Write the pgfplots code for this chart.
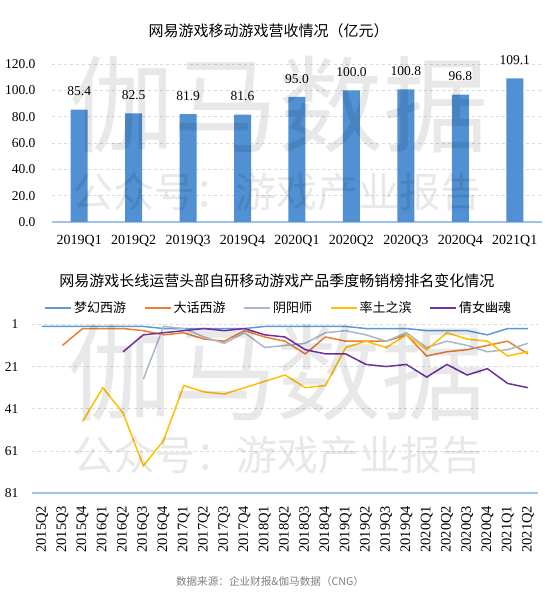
\documentclass[border=0pt]{standalone}
\usepackage{pgfplots}
\pgfplotsset{compat=1.18}
\usepackage{pgfplotstable}
\usepackage{fontspec}
\setmainfont{Liberation Serif}
\newfontfamily\cjk{Noto Sans CJK SC}
\definecolor{barblue}{HTML}{5090D3}
\definecolor{axblue}{HTML}{9DC3E6}
\definecolor{gridc}{HTML}{D9D9D9}
\definecolor{cblue}{HTML}{5B9BD5}
\definecolor{corange}{HTML}{ED7D31}
\definecolor{cgrey}{HTML}{A9B7CA}
\definecolor{cyellow}{HTML}{FFC000}
\definecolor{cpurple}{HTML}{7030A0}
\definecolor{srcgray}{HTML}{7F7F7F}

\pgfplotstableread{
q rev
0 85.4
1 82.5
2 81.9
3 81.6
4 95.0
5 100.0
6 100.8
7 96.8
8 109.1
}\revenue

\pgfplotstableread{
i mh dh yy st qn
0 2 nan nan nan nan
1 2 11 nan nan nan
2 2 3 nan 47 nan
3 2 3 nan 31 nan
4 2 3 nan 43 14
5 2 4 27 68 6
6 3 6 2 56 5
7 3 5 3 30 4
8 3 8 7 33 3
9 3 9 10 34 4
10 3 4 5 31 3
11 2 7 12 28 6
12 2 9 11 25 7
13 2 15 10 31 13
14 2 7 5 30 15
15 2 9 4 12 15
16 3 9 6 9 20
17 3 9 9 12 21
18 3 6 5 6 20
19 4 16 12 13 26
20 4 14 9 5 20
21 4 13 11 8 25
22 6 11 14 9 22
23 3 9 13 16 29
24 3 15 10 14 31
}\ranks

\begin{document}
\begin{tikzpicture}
\useasboundingbox (0pt,0pt) rectangle (547pt,595pt);

% titles
\node[font=\cjk\fontsize{15}{15}\selectfont] at (268.5pt,564pt) {网易游戏移动游戏营收情况（亿元）};
\node[font=\cjk\fontsize{15}{15}\selectfont] at (277pt,314pt) {网易游戏长线运营头部自研移动游戏产品季度畅销榜排名变化情况};
\node[font=\cjk\fontsize{10.6}{10.6}\selectfont, text=srcgray] at (270pt,13.5pt) {数据来源：企业财报\&伽马数据（CNG）};

% top bar chart
\begin{axis}[
  at={(52pt,373pt)}, anchor=south west,
  scale only axis, width=490pt, height=158pt,
  ymin=0, ymax=120, ytick={0,20,...,120},
  xmin=-0.5, xmax=8.5, xtick={0,...,8},
  xticklabels={2019Q1,2019Q2,2019Q3,2019Q4,2020Q1,2020Q2,2020Q3,2020Q4,2021Q1},
  ybar, bar width=17pt,
  ymajorgrids, grid style={gridc, dash pattern=on 3pt off 3pt, line width=0.8pt},
  separate axis lines, axis x line*=bottom, axis y line*=left,
  y axis line style={draw=none},
  x axis line style={draw=axblue, line width=1.2pt, -},
  major tick length=0pt,
  tick label style={font=\fontsize{13.5}{13.5}\selectfont},
  /pgf/number format/assume math mode=true,
  yticklabel style={xshift=-13pt, /pgf/number format/.cd, fixed, fixed zerofill, precision=1, assume math mode=true},
  xticklabel style={yshift=-10pt, font=\fontsize{14}{14}\selectfont},
  nodes near coords={\pgfmathprintnumber[fixed,fixed zerofill,precision=1,assume math mode=true]{\pgfplotspointmeta}},
  nodes near coords style={font=\fontsize{13.5}{13.5}\selectfont, yshift=10pt, text=black},
  clip=false,
]
\addplot[fill=barblue, draw=none] table[x=q, y=rev] {\revenue};
\end{axis}

% bottom line chart
\begin{axis}[
  at={(32pt,101.7pt)}, anchor=south west,
  scale only axis, width=506pt, height=169pt,
  y dir=reverse, ymin=1, ymax=81, ytick={1,21,41,61,81},
  xmin=-0.5, xmax=24.5, xtick={0,...,24},
  xticklabels={2015Q2,2015Q3,2015Q4,2016Q1,2016Q2,2016Q3,2016Q4,2017Q1,2017Q2,2017Q3,2017Q4,2018Q1,2018Q2,2018Q3,2018Q4,2019Q1,2019Q2,2019Q3,2019Q4,2020Q1,2020Q2,2020Q3,2020Q4,2021Q1,2021Q2},
  xticklabel style={yshift=-9pt, rotate=90, anchor=east, font=\fontsize{14.5}{14.5}\selectfont},
  ymajorgrids, grid style={gridc, dash pattern=on 3pt off 3pt, line width=0.8pt},
  axis line style={draw=none},
  major tick length=0pt,
  tick label style={font=\fontsize{13.5}{13.5}\selectfont},
  /pgf/number format/assume math mode=true,
  yticklabel style={xshift=-10pt},
  legend columns=5,
  legend style={draw=none, fill=none, at={(0.5,1)}, anchor=south, yshift=6pt, xshift=-6pt,
    font=\cjk\fontsize{13}{13}\selectfont,
    /tikz/every even column/.append style={column sep=16pt}},
  legend image code/.code={\draw[#1, line width=1.5pt] (0pt,0pt) -- (26pt,0pt);},
  clip=false,
]
\draw[axblue, line width=2pt] (axis cs:-0.5,81) -- (axis cs:24.5,81);
\addplot[cblue, line width=1.5pt] table[x=i, y=mh] {\ranks};
\addlegendentry{梦幻西游}
\addplot[corange, line width=1.5pt] table[x=i, y=dh] {\ranks};
\addlegendentry{大话西游}
\addplot[cgrey, line width=1.5pt] table[x=i, y=yy] {\ranks};
\addlegendentry{阴阳师}
\addplot[cyellow, line width=1.5pt] table[x=i, y=st] {\ranks};
\addlegendentry{率土之滨}
\addplot[cpurple, line width=1.5pt] table[x=i, y=qn] {\ranks};
\addlegendentry{倩女幽魂}
\end{axis}

% watermarks
\begin{scope}[opacity=0.09]
\node[font=\cjk\fontsize{105}{105}\selectfont] at (279pt,490pt) {伽马数据};
\node[font=\cjk\fontsize{41}{41}\selectfont] at (277pt,403pt) {公众号：游戏产业报告};
\node[font=\cjk\fontsize{105}{105}\selectfont] at (277pt,222pt) {伽马数据};
\node[font=\cjk\fontsize{41}{41}\selectfont] at (278pt,140pt) {公众号：游戏产业报告};
\end{scope}
\end{tikzpicture}
\end{document}
